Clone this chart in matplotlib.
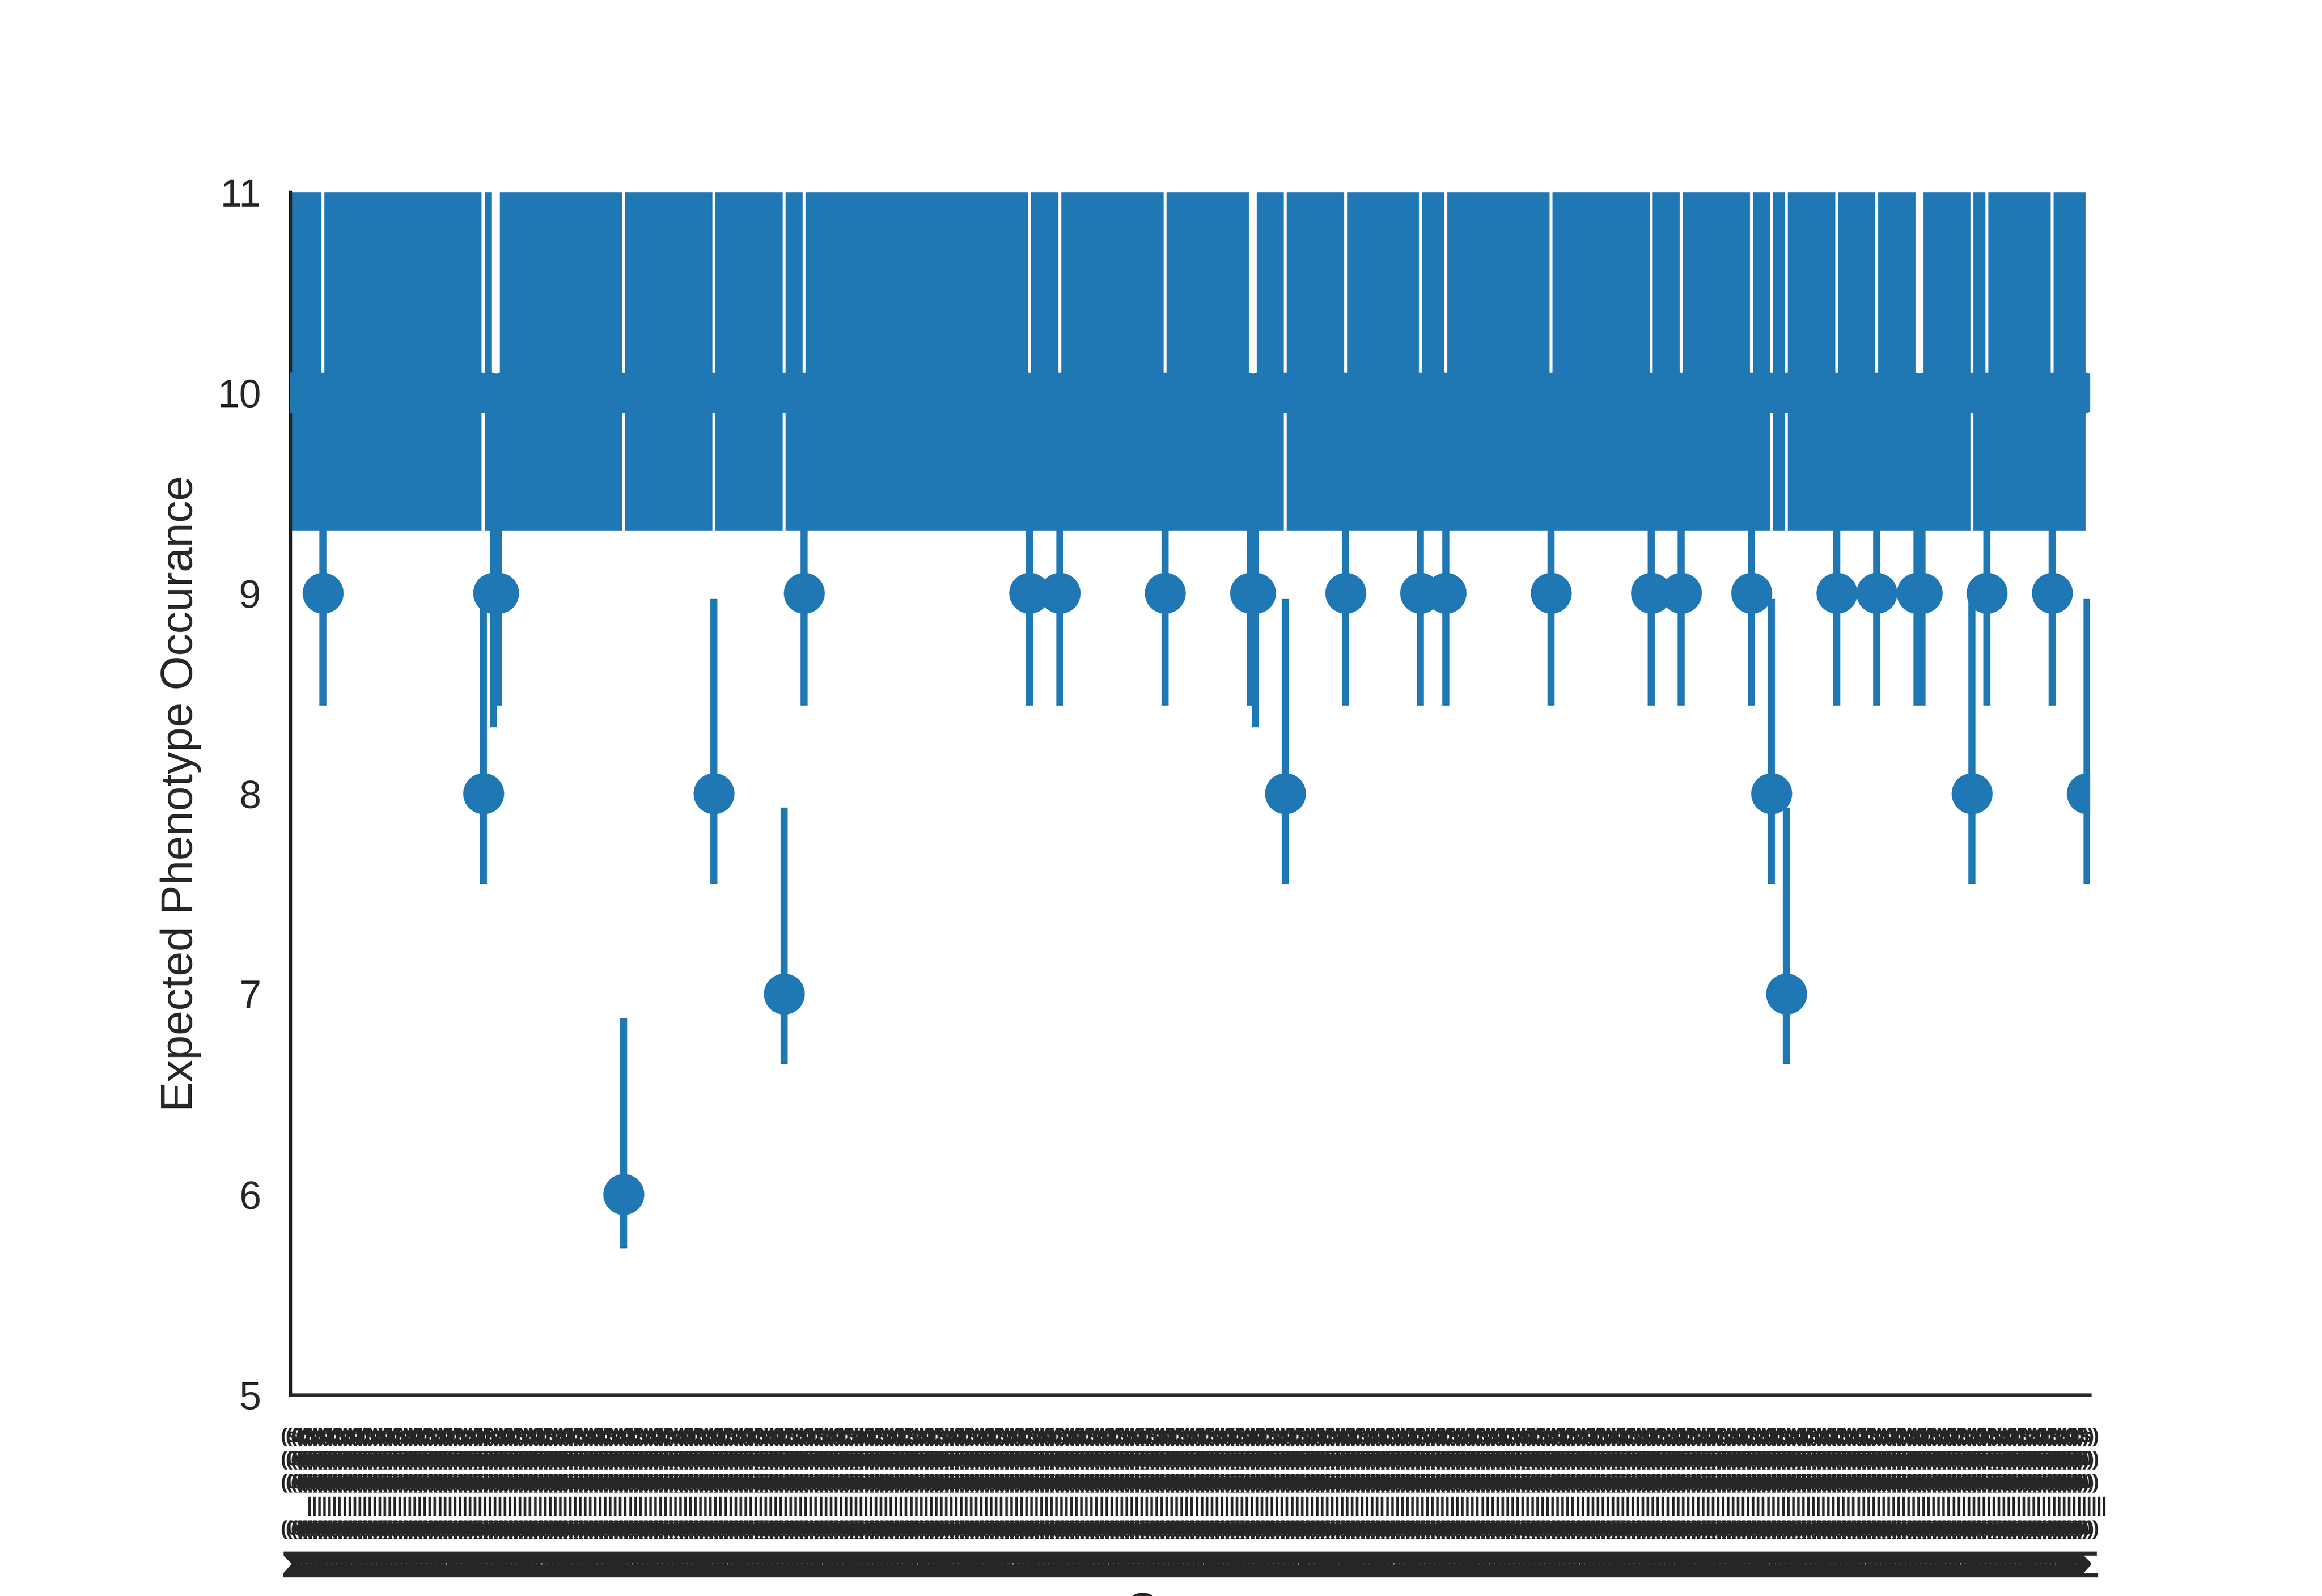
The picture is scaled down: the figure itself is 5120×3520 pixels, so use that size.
import numpy as np
import matplotlib
matplotlib.use("Agg")
import matplotlib.pyplot as plt

plt.rcParams['font.family'] = ['Liberation Sans', 'DejaVu Sans']

# ---- data ----
N_GENOTYPES = 359          # one point per genotype on the x axis
BASE_MEAN = 10             # most genotypes sit at 10

# genotype indices whose mean is not 10
idx_mean_9 = [6, 40, 41, 102, 147, 153, 174, 191, 192, 210, 225, 230, 251,
              271, 277, 291, 308, 316, 324, 325, 338, 351]
idx_mean_8 = [38, 84, 198, 295, 335, 358]
idx_mean_7 = [98, 298]
idx_mean_6 = [66]

# confidence interval bounds for each mean level
ci_lower = {10: 9.31, 9: 8.44, 8: 7.55, 7: 6.65, 6: 5.73}
ci_upper = {10: 11.1, 9: 10.0, 8: 8.97, 7: 7.93, 6: 6.88}
ci_lower_special = {40: 8.33, 192: 8.33}

# pieces of the (unreadable, overlapping) genotype tick labels
label_head = ["(s)", "(0)", "(c)", "(1)", "(s)", "(o)"]
label_rows = ["(0)", "(0)", "      |", "(0)"]
label_tail = "Σ"

COLOR = "#1f77b4"
TEXT = "#262626"

means = np.full(N_GENOTYPES, BASE_MEAN, dtype=float)
for val, idx in [(9, idx_mean_9), (8, idx_mean_8), (7, idx_mean_7), (6, idx_mean_6)]:
    means[idx] = val
lower = np.array([ci_lower[int(m)] for m in means])
upper = np.array([ci_upper[int(m)] for m in means])
for i, v in ci_lower_special.items():
    lower[i] = v

labels = ["\n".join([label_head[i % len(label_head)]] + label_rows)
          for i in range(N_GENOTYPES)]

fig = plt.figure(figsize=(16, 11), dpi=320)
ax = fig.add_axes([0.125, 0.1261, 0.775, 0.7534])

x = np.arange(N_GENOTYPES)
ax.vlines(x, lower, upper, color=COLOR, linewidth=3.5, capstyle='butt', zorder=2)
ax.plot(x, means, linestyle='none', marker='o', markersize=20.3,
        markeredgewidth=0, color=COLOR, zorder=3)

ax.set_xlim(-0.5, N_GENOTYPES - 0.5)
ax.set_ylim(5, 11)
ax.set_yticks(range(5, 12))

# genotype labels: most rows as major labels, last row as minor labels
ax.xaxis.remove_overlapping_locs = False
ax.set_xticks(x)
ax.set_xticklabels(labels, fontsize=10, fontweight='bold', color=TEXT,
                   linespacing=1.3)
ax.set_xticks(x, minor=True)
ax.set_xticklabels([label_tail] * N_GENOTYPES, minor=True, fontsize=19,
                   fontweight='bold', color=TEXT)
ax.tick_params(axis='x', which='major', length=0, pad=16.5)
ax.tick_params(axis='x', which='minor', length=0, pad=77)
ax.tick_params(axis='y', length=0, pad=14.5, labelsize=19.5, labelcolor=TEXT)

for side in ['top', 'right']:
    ax.spines[side].set_visible(False)
for side in ['left', 'bottom']:
    ax.spines[side].set_linewidth(1.6)
    ax.spines[side].set_color(TEXT)

ax.set_ylabel("Expected Phenotype Occurance", fontsize=22, color=TEXT, labelpad=8)
ax.set_xlabel("Genes", fontsize=22, color=TEXT)
ax.xaxis.set_label_coords(0.5, -0.164)

fig.savefig("out.png", dpi=320)
